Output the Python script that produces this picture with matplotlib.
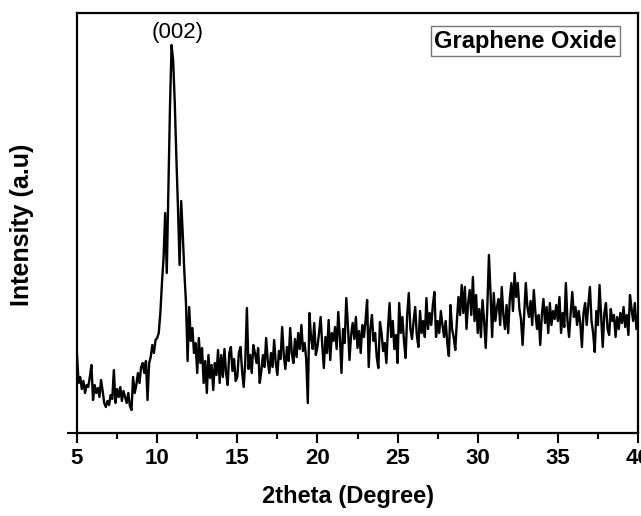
import numpy as np
import matplotlib
matplotlib.use("Agg")
import matplotlib.pyplot as plt
from matplotlib.ticker import MultipleLocator

# XRD scan of graphene oxide, 2theta from 5 to 40 degrees in 0.1 degree steps
two_theta_start = 5.0
two_theta_step = 0.1
intensity = [
    # 5.0 - 5.9
    78, 50, 56, 44, 52, 40, 48, 46, 56, 68,
    # 6.0 - 6.9
    33, 48, 40, 45, 36, 53, 42, 30, 26, 32,
    # 7.0 - 7.9
    28, 38, 34, 63, 30, 44, 36, 46, 32, 42,
    # 8.0 - 8.9
    36, 30, 40, 27, 23, 56, 40, 48, 60, 50,
    # 9.0 - 9.9
    66, 70, 60, 72, 33, 70, 76, 88, 80, 93,
    # 10.0 - 10.9
    95, 100, 120, 150, 175, 220, 160, 240, 325, 388,
    # 11.0 - 11.9
    372, 330, 275, 225, 168, 232, 198, 160, 130, 72,
    # 12.0 - 12.9
    126, 92, 105, 80, 90, 60, 95, 70, 85, 50,
    # 13.0 - 13.9
    72, 40, 78, 55, 68, 43, 70, 58, 83, 50,
    # 14.0 - 14.9
    78, 56, 84, 60, 48, 80, 86, 62, 74, 52,
    # 15.0 - 15.9
    56, 80, 86, 62, 46, 72, 125, 64, 78, 60,
    # 16.0 - 16.9
    88, 80, 70, 85, 50, 62, 78, 66, 95, 72,
    # 17.0 - 17.9
    60, 80, 66, 93, 70, 58, 82, 74, 106, 78,
    # 18.0 - 18.9
    64, 86, 72, 105, 80, 70, 94, 76, 100, 84,
    # 19.0 - 19.9
    108, 82, 90, 74, 30, 120, 96, 84, 110, 78,
    # 20.0 - 20.9
    86, 100, 116, 88, 65, 96, 80, 113, 73, 100,
    # 21.0 - 21.9
    92, 106, 84, 121, 96, 60, 104, 90, 135, 108,
    # 22.0 - 22.9
    73, 98, 110, 94, 116, 85, 102, 80, 108, 96,
    # 23.0 - 23.9
    112, 133, 66, 104, 118, 92, 100, 76, 65, 111,
    # 24.0 - 24.9
    100, 82, 90, 70, 104, 130, 96, 112, 84, 98,
    # 25.0 - 25.9
    70, 130, 100, 116, 92, 75, 118, 140, 104, 94,
    # 26.0 - 26.9
    112, 126, 98, 86, 122, 100, 112, 96, 135, 104,
    # 27.0 - 27.9
    120, 108, 128, 141, 96, 112, 100, 122, 108, 96,
    # 28.0 - 28.9
    112, 90, 77, 128, 104, 96, 83, 112, 136, 118,
    # 29.0 - 29.9
    148, 120, 146, 104, 130, 143, 118, 156, 112, 138,
    # 30.0 - 30.9
    100, 124, 96, 133, 112, 85, 126, 178, 140, 96,
    # 31.0 - 31.9
    140, 112, 126, 134, 108, 146, 118, 104, 128, 100,
    # 32.0 - 32.9
    134, 150, 122, 160, 136, 150, 124, 114, 88, 120,
    # 33.0 - 33.9
    150, 126, 116, 132, 108, 143, 120, 104, 118, 88,
    # 34.0 - 34.9
    118, 134, 110, 126, 100, 130, 108, 122, 114, 128,
    # 35.0 - 35.9
    112, 136, 100, 120, 106, 150, 112, 96, 120, 141,
    # 36.0 - 36.9
    116, 126, 108, 122, 110, 86, 120, 130, 108, 128,
    # 37.0 - 37.9
    146, 112, 100, 81, 122, 108, 148, 118, 86, 120,
    # 38.0 - 38.9
    130, 104, 98, 124, 112, 118, 96, 116, 104, 120,
    # 39.0 - 39.9
    110, 126, 106, 118, 98, 138, 124, 112, 130, 104,
    # 40.0
    118,
]
two_theta = two_theta_start + two_theta_step * np.arange(len(intensity))

x_ticks = [5, 10, 15, 20, 25, 30, 35, 40]
peak_label = "(002)"
peak_label_x = 11.3
sample_name = "Graphene Oxide"

plt.rcParams["font.family"] = ["Liberation Sans", "DejaVu Sans"]

W, H = 641, 516
fig = plt.figure(figsize=(W / 100, H / 100), dpi=100)
ax = fig.add_axes([77 / W, 1 - 433 / H, 561 / W, 420 / H])

ax.plot(two_theta, intensity, color="black", linewidth=1.7)

ax.set_xlim(5, 40)
ax.set_ylim(0, 420)

ax.set_xticks(x_ticks)
ax.set_xticklabels([str(t) for t in x_ticks], fontsize=16, fontweight="bold")
ax.xaxis.set_minor_locator(MultipleLocator(2.5))
ax.tick_params(axis="x", which="major", direction="out", length=7, width=1.5, pad=4)
ax.tick_params(axis="x", which="minor", direction="out", length=4, width=1.5)
ax.set_yticks([0])
ax.set_yticklabels([""])
ax.tick_params(axis="y", which="major", direction="out", length=7, width=1.5)

for spine in ax.spines.values():
    spine.set_linewidth(1.6)

fig.text(348 / W, 1 - 497 / H, "2theta (Degree)", fontsize=17, fontweight="bold",
         ha="center", va="center")
fig.text(22 / W, 1 - 225 / H, "Intensity (a.u)", fontsize=18, fontweight="bold",
         ha="center", va="center", rotation=90)

ax.text(peak_label_x, 420 - 9, peak_label, ha="center", va="top", fontsize=16)

ax.text(0.962, 0.960, sample_name, transform=ax.transAxes, ha="right", va="top",
        fontsize=17, fontweight="bold",
        bbox=dict(boxstyle="square,pad=0.14", facecolor="white",
                  edgecolor="#777777", linewidth=1.0))

fig.savefig("out.png", dpi=100)
